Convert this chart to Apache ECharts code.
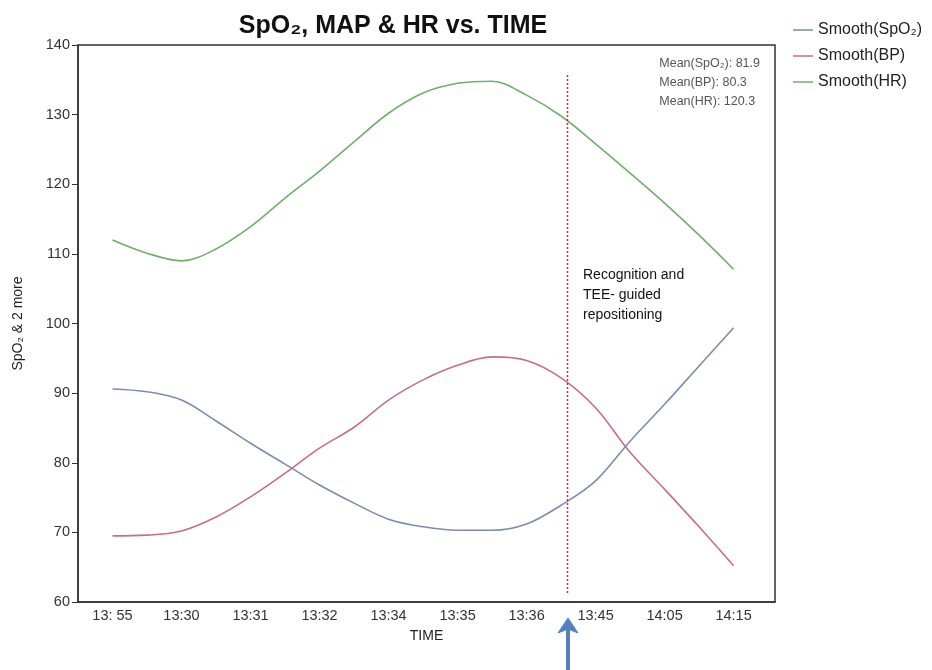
<!DOCTYPE html>
<html><head><meta charset="utf-8">
<script src="https://cdn.jsdelivr.net/npm/echarts@6/dist/echarts.min.js"></script>
<style>html,body{margin:0;padding:0;background:#fff}#c{width:932px;height:670px}</style>
</head><body><div id="c"></div>
<script>
// Tick labels of the time axis (one per category position 0..9)
var categories = ["13: 55","13:30","13:31","13:32","13:34","13:35","13:36","13:45","14:05","14:15"];
var samplePos = [0,0.5,1,1.5,2,2.5,3,3.5,4,4.5,5,5.5,6,6.5,7,7.5,8,8.5,9];
var spo2 = [90.6,90.2,89.0,86.0,82.8,79.8,76.8,74.2,71.9,70.8,70.3,70.3,71.2,73.9,77.4,83.1,88.4,93.9,99.4];
var bp   = [69.5,69.6,70.2,72.2,75.1,78.5,82.1,85.1,89.0,91.9,94.0,95.2,94.7,92.2,87.9,81.5,76.2,70.8,65.2];
var hr   = [112.0,110.1,109.0,110.7,113.9,118.0,121.9,126.1,130.2,133.1,134.5,134.8,132.8,129.8,125.8,121.6,117.3,112.7,107.8];
var eventPos = 6.593;          // event line position, category units
var eventRange = [135.7, 61.0]; // vertical extent of event line
var meanLabels = ["Mean(SpO\u2082): 81.9", "Mean(BP): 80.3", "Mean(HR): 120.3"];
var seriesNames = ["Smooth(SpO\u2082)", "Smooth(BP)", "Smooth(HR)"];
var annotation = "Recognition and\nTEE- guided\nrepositioning";

function pairs(vals){ return samplePos.map(function(p,i){ return [p, vals[i]]; }); }
var tickPos = categories.map(function(_, i){ return i; });

var chart = echarts.init(document.getElementById('c'), null, {renderer:'canvas'});
var font = 'Liberation Sans, Arial, Helvetica, sans-serif';
var colors = ['#7a8db0', '#c66f82', '#6fb06b'];
function lineSeries(i, vals){
  return {name:seriesNames[i], type:'line', data:pairs(vals), smooth:0.35,
    symbol:'none', lineStyle:{color:colors[i], width:1.6}, itemStyle:{color:colors[i]}};
}
chart.setOption({
  animation:false,
  textStyle:{fontFamily:font},
  title:{text:"SpO\u2082, MAP & HR vs. TIME", left:388, textAlign:'center', top:9,
    textStyle:{fontSize:25, fontWeight:'bold', color:'#111', fontFamily:font}},
  legend:{data:seriesNames, orient:'vertical', left:788, top:17, itemGap:10,
    icon:'rect', itemWidth:20, itemHeight:1.5, textStyle:{fontSize:16, color:'#222'}},
  grid:{left:78, top:45, right:157, bottom:68, show:true, borderColor:'#333', borderWidth:1.5},
  xAxis:{type:'value', min:-0.5, max:9.6,
    name:'TIME', nameLocation:'middle', nameGap:27, nameTextStyle:{fontSize:14, color:'#222'},
    axisLine:{show:true, onZero:false, lineStyle:{color:'#333', width:1.5}}, axisTick:{show:false},
    splitLine:{show:false},
    axisLabel:{customValues:tickPos, fontSize:14.5, color:'#333', margin:6,
      formatter:function(v){ return categories[Math.round(v)]; }}},
  yAxis:{type:'value', min:60, max:140, interval:10,
    name:'SpO\u2082 & 2 more', nameLocation:'middle', nameGap:53, nameRotate:90,
    nameTextStyle:{fontSize:14, color:'#222'},
    axisLine:{show:true, onZero:false, lineStyle:{color:'#333', width:1.5}},
    axisTick:{show:true, length:6, lineStyle:{color:'#333'}},
    splitLine:{show:false}, axisLabel:{fontSize:14.5, color:'#333', margin:8}},
  series:[
    lineSeries(0, spo2), lineSeries(1, bp), lineSeries(2, hr),
    {name:'event', type:'line', data:[[eventPos, eventRange[0]],[eventPos, eventRange[1]]],
      symbol:'none', color:'#ff1a1a', itemStyle:{color:'#ff1a1a'},
      lineStyle:{color:'#ff1a1a', width:1.5, type:[2,2]}, silent:true}
  ],
  graphic:[
    {type:'text', right:172, top:54, style:{text:meanLabels.join('\n'), align:'right', fill:'#555', font:'12.5px '+font, lineHeight:19}},
    {type:'text', left:583, top:265, style:{text:annotation, fill:'#111', font:'14px '+font, lineHeight:20}},
    {type:'line', shape:{x1:568, y1:670, x2:568, y2:628}, style:{stroke:'#5580c0', lineWidth:4}},
    {type:'polygon', shape:{points:[[558,633],[568,618],[578,633],[568,629]]}, style:{fill:'#5580c0', stroke:'#5580c0', lineWidth:1}}
  ]
});
</script></body></html>
